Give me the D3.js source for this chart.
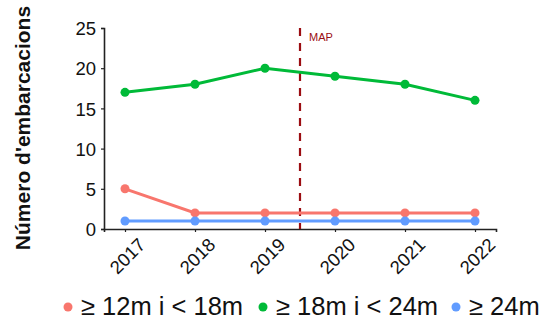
<!DOCTYPE html>
<html><head><meta charset="utf-8">
<script src="https://cdn.jsdelivr.net/npm/d3@7"></script>
<style>body{margin:0;background:#fff}svg{display:block}text{font-family:"Liberation Sans",Arial,sans-serif}</style>
</head><body><svg id="c" width="551" height="323"></svg>
<script>
const years = [2017, 2018, 2019, 2020, 2021, 2022];
const seriesNames = ["≥ 12m i < 18m", "≥ 18m i < 24m", "≥ 24m"];
const seriesColors = ["#F8766D", "#00BA38", "#619CFF"];
const s12_18 = [5, 2, 2, 2, 2, 2];
const s18_24 = [17, 18, 20, 19, 18, 16];
const s24 = [1, 1, 1, 1, 1, 1];
const yTicks = [0, 5, 10, 15, 20, 25];
const mapYear = 2019.5;
const mapLabel = "MAP";
const yTitle = "Número d'embarcacions";

const series = [s12_18, s18_24, s24];
const svg = d3.select("#c");
const x = d3.scaleLinear().domain([2016.7, 2022.3]).range([104, 496]);
const y = d3.scaleLinear().domain([0, 25]).range([229, 28]);

// axes
const ya = svg.append("g").attr("transform", "translate(104,0)")
  .call(d3.axisLeft(y).tickValues(yTicks).tickSize(3).tickPadding(5));
const xa = svg.append("g").attr("transform", "translate(0,229)")
  .call(d3.axisBottom(x).tickValues(years).tickSize(3).tickFormat(d3.format("d")));
[ya, xa].forEach(g => {
  g.select(".domain").attr("stroke", "#222").attr("stroke-width", 1.6);
  g.selectAll(".tick line").attr("stroke", "#222").attr("stroke-width", 1.2);
  g.selectAll("text").attr("fill", "#111").attr("font-size", 18.5);
});
ya.selectAll("text").attr("dy", "0.36em");
xa.selectAll("text")
  .attr("text-anchor", "end")
  .attr("dy", "0.75em")
  .attr("transform", "translate(7,3) rotate(-45)");

// MAP line
svg.append("line")
  .attr("x1", x(mapYear)).attr("x2", x(mapYear))
  .attr("y1", y(25)).attr("y2", y(0))
  .attr("stroke", "#9B0D12").attr("stroke-width", 2.2)
  .attr("stroke-dasharray", "8,7");
svg.append("text").attr("x", x(mapYear) + 9).attr("y", 41)
  .attr("font-size", 11).attr("fill", "#9B0D12").text(mapLabel);

// series
const line = d3.line().x((d, i) => x(years[i])).y(d => y(d));
series.forEach((vals, k) => {
  const g = svg.append("g");
  g.append("path").datum(vals).attr("d", line)
    .attr("fill", "none").attr("stroke", seriesColors[k]).attr("stroke-width", 3);
  g.selectAll("circle").data(vals).join("circle")
    .attr("cx", (d, i) => x(years[i])).attr("cy", d => y(d))
    .attr("r", 4.5).attr("fill", seriesColors[k]);
});

// y title
svg.append("text")
  .attr("transform", "translate(30,128) rotate(-90)")
  .attr("text-anchor", "middle").attr("font-weight", "bold")
  .attr("font-size", 21).attr("fill", "#111").text(yTitle);

// legend
const legX = [68, 263, 456];
seriesNames.forEach((n, k) => {
  svg.append("circle").attr("cx", legX[k]).attr("cy", 307).attr("r", 4.5).attr("fill", seriesColors[k]);
  svg.append("text").attr("x", legX[k] + 13).attr("y", 315)
    .attr("font-size", 25.5).attr("fill", "#111").text(n);
});
</script></body></html>
